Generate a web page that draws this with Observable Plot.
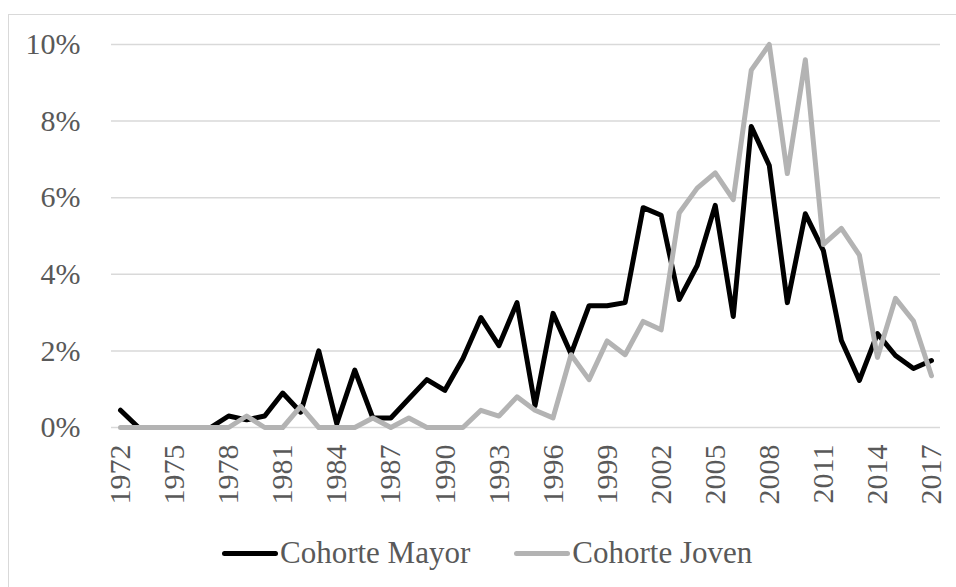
<!DOCTYPE html>
<html><head><meta charset="utf-8">
<script src="https://cdn.jsdelivr.net/npm/d3@7"></script>
<script src="https://cdn.jsdelivr.net/npm/@observablehq/plot@0.6"></script>
<style>
body{margin:0;background:#fff;width:956px;height:587px;overflow:hidden;position:relative;font-family:"Liberation Serif","Times New Roman",serif;}
#frame{position:absolute;left:8px;top:14px;width:1000px;height:1000px;border-left:1.5px solid #d9d9d9;border-top:1.5px solid #d9d9d9;}
#chart{position:absolute;left:0;top:0;}
#legend{position:absolute;left:222px;top:533px;height:40px;line-height:40px;display:flex;align-items:center;font-size:31px;color:#595959;white-space:nowrap;}
.sw{display:inline-block;width:56px;height:5px;border-radius:3px;margin-right:2px;}
.item{display:flex;align-items:center;}
</style></head>
<body>
<div id="frame"></div>
<div id="chart"></div>
<div id="legend"></div>
<script>
const years = [1972,1973,1974,1975,1976,1977,1978,1979,1980,1981,1982,1983,1984,1985,1986,1987,1988,1989,1990,1991,1992,1993,1994,1995,1996,1997,1998,1999,2000,2001,2002,2003,2004,2005,2006,2007,2008,2009,2010,2011,2012,2013,2014,2015,2016,2017];
const mayor = [0.45,0,0,0,0,0,0.3,0.2,0.3,0.9,0.4,2.0,0.1,1.5,0.25,0.25,0.75,1.25,0.97,1.8,2.87,2.14,3.26,0.57,2.98,1.92,3.18,3.18,3.26,5.74,5.54,3.34,4.23,5.8,2.9,7.86,6.84,3.26,5.58,4.62,2.27,1.23,2.45,1.88,1.54,1.75];
const joven = [0,0,0,0,0,0,0,0.3,0,0,0.55,0,0,0,0.25,0,0.25,0,0,0,0.45,0.3,0.8,0.45,0.25,1.9,1.25,2.26,1.9,2.77,2.55,5.6,6.25,6.65,5.95,9.33,10.0,6.63,9.6,4.78,5.2,4.5,1.83,3.37,2.78,1.35];
const seriesNames = ["Cohorte Mayor","Cohorte Joven"];
const seriesColors = ["#000000","#b3b3b3"];
const xTicks = [1972,1975,1978,1981,1984,1987,1990,1993,1996,1999,2002,2005,2008,2011,2014,2017];
const yTicks = [0,0.02,0.04,0.06,0.08,0.10];

const rowsM = years.map((y,i)=>({year:y, value:mayor[i]/100}));
const rowsJ = years.map((y,i)=>({year:y, value:joven[i]/100}));

const chart = Plot.plot({
  width:956, height:520,
  marginLeft:111, marginRight:16, marginTop:44, marginBottom:93,
  x:{domain:[1971.5,2017.5]},
  y:{domain:[0,0.1]},
  style:{fontFamily:'"Liberation Serif","Times New Roman",serif', fontSize:"30px", color:"#595959", background:"transparent"},
  marks:[
    Plot.gridY(yTicks,{stroke:"#d9d9d9", strokeOpacity:1, strokeWidth:1.5}),
    Plot.axisY(yTicks,{tickSize:0, tickPadding:31, tickFormat:d=>Math.round(d*100)+"%", label:null, fill:"#595959", fontSize:30}),
    Plot.axisX(xTicks,{tickSize:0, tickRotate:-90, tickPadding:17, tickFormat:d=>String(d), label:null, fill:"#595959", fontSize:30}),
    Plot.line(rowsM,{x:"year", y:"value", stroke:seriesColors[0], strokeWidth:5, strokeLinejoin:"round", strokeLinecap:"round"}),
    Plot.line(rowsJ,{x:"year", y:"value", stroke:seriesColors[1], strokeWidth:5, strokeLinejoin:"round", strokeLinecap:"round"})
  ]
});
document.getElementById("chart").appendChild(chart);

const leg = document.getElementById("legend");
seriesNames.forEach((n,i)=>{
  const it = document.createElement("span");
  it.className="item";
  if(i>0) it.style.marginLeft="44px";
  const sw = document.createElement("span");
  sw.className="sw"; sw.style.background=seriesColors[i];
  const t = document.createElement("span"); t.textContent=n;
  it.appendChild(sw); it.appendChild(t);
  leg.appendChild(it);
});
</script>
</body></html>
